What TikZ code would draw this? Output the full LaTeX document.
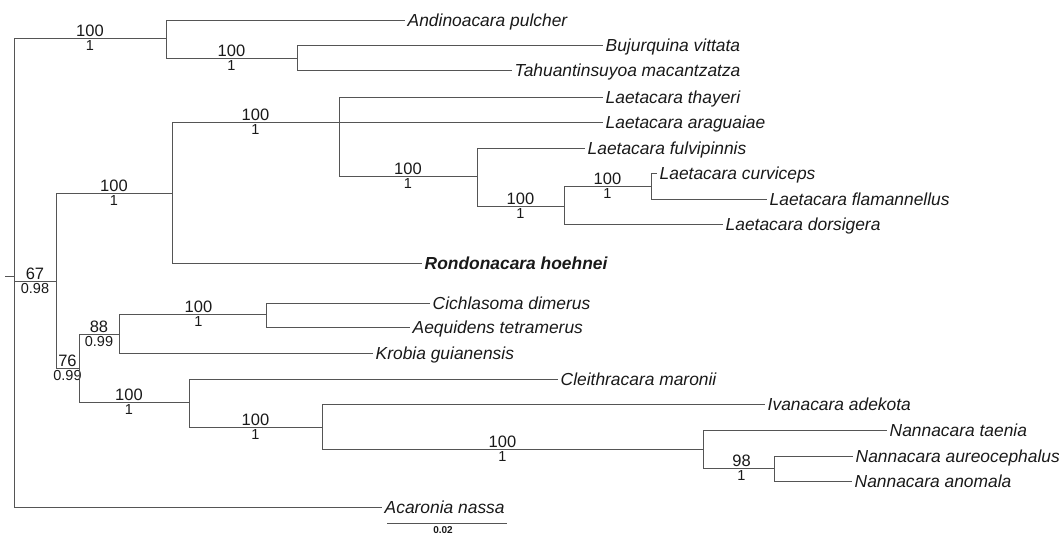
\documentclass[tikz,border=0pt]{standalone}
\usepackage{fontspec}
\setmainfont{Liberation Sans}
\definecolor{branch}{RGB}{85,85,85}
\definecolor{txt}{RGB}{25,25,25}
\tikzset{
 br/.style={draw=branch, line width=0.9pt},
 leaf/.style={anchor=west, font=\fontsize{17.4}{20}\selectfont\itshape, text=txt, text height=12.4pt, text depth=0pt, inner ysep=0pt, inner xsep=2.5pt},
 sup/.style={anchor=south, font=\fontsize{16.5}{19}\selectfont, text=txt, inner sep=1pt, pos=0.75},
 sub/.style={anchor=north, font=\fontsize{14.5}{17}\selectfont, text=txt, inner sep=2pt, pos=0.75},
 scalelbl/.style={font=\fontsize{10}{12}\selectfont\bfseries, text=txt, inner sep=0pt}
}
\begin{document}
\begin{tikzpicture}[x=1pt,y=-1pt]
\useasboundingbox (0,0) rectangle (1059,534);
% internal nodes
\coordinate (R0) at (5,276);
\coordinate (R) at (14,276);
\coordinate (A) at (166,38);
\coordinate (B) at (297,58);
\coordinate (C) at (56,281);
\coordinate (D) at (172,193);
\coordinate (L) at (339,122);
\coordinate (F) at (477,176);
\coordinate (G) at (564,206);
\coordinate (H) at (651,186);
\coordinate (E) at (79,368);
\coordinate (I) at (119,334);
\coordinate (K) at (266,314);
\coordinate (J) at (189,402);
\coordinate (M) at (322,427);
\coordinate (N) at (703,449);
\coordinate (O) at (774,468);
% leaves
\node[leaf] (andino) at (405,20) {Andinoacara pulcher};
\node[leaf] (bujur) at (603,45) {Bujurquina vittata};
\node[leaf] (tahuan) at (512,70) {Tahuantinsuyoa macantzatza};
\node[leaf] (thayeri) at (603,97) {Laetacara thayeri};
\node[leaf] (aragu) at (603,122) {Laetacara araguaiae};
\node[leaf] (fulvi) at (585,148) {Laetacara fulvipinnis};
\node[leaf] (curvi) at (657,173) {Laetacara curviceps};
\node[leaf] (flam) at (767,199) {Laetacara flamannellus};
\node[leaf] (dors) at (723,224) {Laetacara dorsigera};
\node[leaf,font=\fontsize{17.4}{20}\selectfont\bfseries\itshape] (rondo) at (422,263) {Rondonacara hoehnei};
\node[leaf] (cichla) at (430,303) {Cichlasoma dimerus};
\node[leaf] (aequi) at (410,327) {Aequidens tetramerus};
\node[leaf] (krobia) at (373,353) {Krobia guianensis};
\node[leaf] (cleith) at (558,379) {Cleithracara maronii};
\node[leaf] (ivana) at (765,404) {Ivanacara adekota};
\node[leaf] (taenia) at (887,430) {Nannacara taenia};
\node[leaf] (aureo) at (853,456) {Nannacara aureocephalus};
\node[leaf] (anom) at (852,481) {Nannacara anomala};
\node[leaf] (acaro) at (382,507) {Acaronia nassa};
% branches
\draw[br] (R0) -- (R);
\draw[br] (R) |- node[sup]{100} node[sub]{1} (A);
\draw[br] (R) |- node[sup]{67} node[sub]{0.98} (C);
\draw[br] (R) |- (acaro.west);
\draw[br] (A) |- (andino.west);
\draw[br] (A) |- node[sup]{100} node[sub]{1} (B);
\draw[br] (B) |- (bujur.west);
\draw[br] (B) |- (tahuan.west);
\draw[br] (C) |- node[sup]{100} node[sub]{1} (D);
\draw[br] (C) |- node[sup]{76} node[sub]{0.99} (E);
\draw[br] (D) |- node[sup]{100} node[sub]{1} (L);
\draw[br] (D) |- (rondo.west);
\draw[br] (L) |- (thayeri.west);
\draw[br] (L) -- (aragu.west);
\draw[br] (L) |- node[sup]{100} node[sub]{1} (F);
\draw[br] (F) |- (fulvi.west);
\draw[br] (F) |- node[sup]{100} node[sub]{1} (G);
\draw[br] (G) |- node[sup]{100} node[sub]{1} (H);
\draw[br] (G) |- (dors.west);
\draw[br] (H) |- (curvi.west);
\draw[br] (H) |- (flam.west);
\draw[br] (E) |- node[sup]{88} node[sub]{0.99} (I);
\draw[br] (E) |- node[sup,xshift=-5pt]{100} node[sub,xshift=-5pt]{1} (J);
\draw[br] (I) |- node[sup,xshift=6pt]{100} node[sub,xshift=6pt]{1} (K);
\draw[br] (I) |- (krobia.west);
\draw[br] (K) |- (cichla.west);
\draw[br] (K) |- (aequi.west);
\draw[br] (J) |- (cleith.west);
\draw[br] (J) |- node[sup]{100} node[sub]{1} (M);
\draw[br] (M) |- (ivana.west);
\draw[br] (M) |- node[sup,xshift=-10pt]{100} node[sub,xshift=-10pt]{1} (N);
\draw[br] (N) |- (taenia.west);
\draw[br] (N) |- node[sup,xshift=3pt]{98} node[sub,xshift=3pt]{1} (O);
\draw[br] (O) |- (aureo.west);
\draw[br] (O) |- (anom.west);
% scale bar
\coordinate (sb1) at (387,523);
\coordinate (sb2) at (507,523);
\draw[br] (sb1) -- (sb2);
\node[scalelbl] (sbl) at (443,530) {0.02};
\end{tikzpicture}
\end{document}
